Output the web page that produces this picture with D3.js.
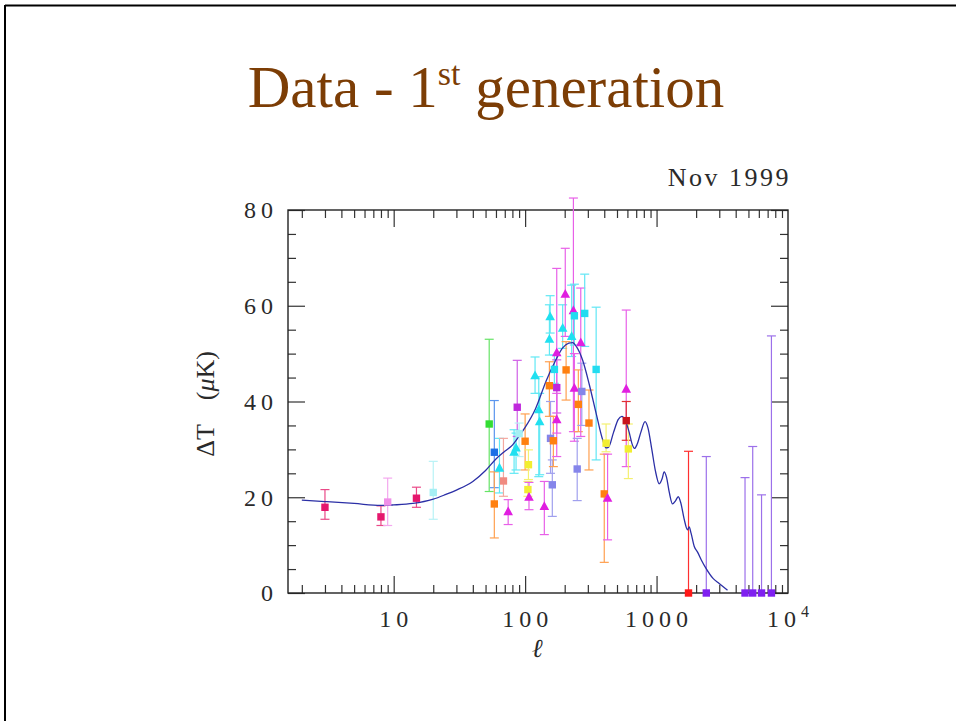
<!DOCTYPE html>
<html>
<head>
<meta charset="utf-8">
<script src="https://cdn.jsdelivr.net/npm/d3@7"></script>
<style>
body { margin: 0; background: #fff; }
svg { display: block; }
</style>
</head>
<body>
<svg id="chart" width="956" height="721"></svg>
<script>
// axis ticks
var yMajor = [0, 20, 40, 60, 80];
var yMinor = [5, 10, 15, 25, 30, 35, 45, 50, 55, 65, 70, 75];
var xMajor = [10, 100, 1000];
var xLabels = [10, 100, 1000, 10000];

// theory curve (l, deltaT)
var curveEll = [2, 3, 5, 8, 10, 14, 20, 25, 30, 40, 50, 60, 70, 80, 90, 100, 120, 145, 170, 193, 215, 230, 245, 274, 308, 347, 389, 412, 430, 470, 510, 545, 580, 620, 650, 680, 710, 760, 817, 860, 920, 980, 1048, 1100, 1143, 1190, 1250, 1323, 1390, 1462, 1530, 1620, 1720, 1770, 1830, 1936, 2046, 2200, 2372, 2700, 2994, 3467];
var curveDT = [19.4, 19.1, 18.7, 18.3, 18.4, 18.7, 19.6, 20.6, 21.5, 23.3, 25.6, 28.0, 29.6, 30.9, 32.8, 34.6, 38.5, 44.4, 48.5, 51.2, 52.2, 52.3, 51.5, 48.6, 43.5, 37.5, 32.0, 30.3, 30.4, 33.5, 36.2, 36.9, 36.0, 33.5, 31.2, 30.2, 31.0, 33.6, 35.8, 34.5, 30.0, 25.5, 22.8, 23.8, 25.3, 24.2, 21.0, 18.6, 19.2, 20.1, 18.8, 15.5, 13.2, 13.8, 12.5, 9.7, 8.6, 6.8, 5.2, 3.0, 2.0, 0.6];

// measurements
var ptEll = [3.0, 8.0, 9.0, 14.9, 20, 53.3, 58.3, 58.3, 63.8, 68.4, 74.3, 82.4, 85.3, 87.1, 90, 100, 106, 105, 107, 119, 127, 129, 140, 153, 155, 153, 156, 161, 164, 167, 174, 174, 174, 193, 205, 202, 226, 233, 237, 237, 249, 254, 265, 270, 306, 284, 347, 400, 424, 413, 588, 588, 610, 1750, 2390, 4710, 5390, 6290, 7480];
var ptDT = [17.9, 15.9, 19.0, 19.8, 21.0, 35.3, 29.4, 18.6, 26.1, 23.4, 17.0, 29.4, 30.3, 38.8, 33.3, 31.7, 26.8, 21.6, 20.0, 45.4, 38.3, 35.8, 18.1, 53.0, 57.7, 43.3, 32.3, 22.6, 31.8, 46.7, 42.9, 50.2, 36.2, 55.3, 46.6, 62.4, 53.6, 59.0, 57.9, 42.8, 25.9, 39.4, 52.3, 42.1, 35.5, 58.4, 46.7, 20.7, 19.8, 31.3, 42.6, 36.0, 30.1, 0, 0, 0, 0, 0, 0];
var ptLo = [15.4, 14.1, 14.1, 17.9, 15.4, 21.2, 22.0, 11.5, 20.9, 20.2, 14.3, 25.0, 25.7, 32.7, 28.5, 25.7, 23.7, 20.2, 17.4, 41.7, 24.3, 24.7, 12.2, 49.7, 54.3, 36.9, 25.0, 16.0, 26.4, 43.8, 37.6, 33.4, 28.5, 51.1, 40.3, 53.6, 49.4, 33.7, 51.8, 31.7, 19.3, 33.7, 32.7, 35.0, 25.7, 51.5, 27.8, 6.4, 11.1, 29.5, 26.4, 31.9, 23.9, 0, 0, 0, 0, 0, 0];
var ptHi = [21.6, 18.2, 24.0, 22.1, 27.5, 53.0, 40.2, 25.3, 32.3, 32.3, 19.5, 34.1, 33.4, 48.6, 35.5, 37.4, 29.9, 23.3, 23.1, 49.3, 45.2, 41.7, 23.3, 60.2, 62.1, 48.3, 40.0, 27.8, 36.9, 49.7, 48.7, 67.8, 41.7, 60.2, 52.5, 72.0, 64.3, 82.5, 64.5, 50.0, 32.3, 46.6, 63.7, 48.0, 42.4, 66.6, 59.7, 29.0, 29.0, 35.3, 59.1, 40.0, 35.3, 29.6, 28.5, 24.1, 30.6, 20.5, 53.7];
var ptSet = ["a", "a", "b", "a", "c", "d", "e", "f", "g", "h", "i", "g", "g", "j", "c", "f", "k", "k", "i", "g", "g", "g", "i", "g", "g", "f", "l", "l", "f", "m", "j", "i", "i", "g", "f", "i", "g", "i", "m", "i", "l", "f", "i", "l", "f", "m", "m", "f", "i", "k", "i", "n", "k", "o", "p", "p", "p", "p", "p", "p"];

var setKeys = ["a", "b", "c", "d", "e", "f", "g", "h", "i", "j", "k", "l", "m", "n", "o", "p"];

var svg = d3.select("#chart");

var color = d3.scaleOrdinal()
    .domain(setKeys)
    .range(["#e5176d", "#f090e8", "#a6eff4", "#33dd33", "#1c6fe6", "#ff8010", "#20e0f0", "#f08a80",
            "#e01ee0", "#c028dc", "#f2ee30", "#8585ea", "#22dcf0", "#c8141c", "#ff1818", "#7f20f0"]);
var barColor = d3.scaleOrdinal()
    .domain(setKeys)
    .range(["#ea4a88", "#f4a8ee", "#b8f2f6", "#66e466", "#5a95ee", "#ffa050", "#60e8f4", "#f4a8a0",
            "#e860e8", "#d060e6", "#f4f070", "#a0a0ee", "#60e6f4", "#e03030", "#ff3030", "#9c70ea"]);

var margin = { top: 210, right: 168, bottom: 128, left: 288 };
var width = 956 - margin.left - margin.right;
var height = 721 - margin.top - margin.bottom;

var x = d3.scaleLog().domain([1.57, 10000]).range([0, width]);
var y = d3.scaleLinear().domain([0, 80]).range([height, 0]);

// slide frame (cropped)
svg.append("line").attr("x1", 5).attr("x2", 956).attr("y1", 5.5).attr("y2", 5.5)
    .attr("stroke", "#000").attr("stroke-width", 2);
svg.append("line").attr("x1", 5).attr("x2", 5).attr("y1", 5).attr("y2", 721)
    .attr("stroke", "#000").attr("stroke-width", 2);

// title
var title = svg.append("text")
    .attr("x", 486).attr("y", 107)
    .attr("text-anchor", "middle")
    .attr("font-family", "'Liberation Serif', 'Times New Roman', serif")
    .attr("font-size", 59)
    .attr("fill", "#7c3d05");
title.append("tspan").text("Data - 1");
title.append("tspan").attr("font-size", 34).attr("dy", -22).text("st");
title.append("tspan").attr("dy", 22).text(" generation");

var g = svg.append("g")
    .attr("transform", "translate(" + margin.left + "," + margin.top + ")");

var xMinor = [];
[1, 10, 100, 1000].forEach(function(d) {
    for (var k = 2; k <= 9; k++) {
        if (d * k > 1.57 && d * k < 10000) xMinor.push(d * k);
    }
});

function tickAxis(axis, tx, ty) {
    var a = g.append("g")
        .attr("transform", "translate(" + tx + "," + ty + ")")
        .call(axis);
    a.select(".domain").remove();
    a.selectAll("line").attr("stroke", "#333").attr("stroke-width", 1.2);
    return a;
}

tickAxis(d3.axisBottom(x).tickValues(xMajor).tickSize(-17).tickSizeOuter(0).tickFormat(""), 0, height);
tickAxis(d3.axisBottom(x).tickValues(xMinor).tickSize(-8).tickSizeOuter(0).tickFormat(""), 0, height);
tickAxis(d3.axisTop(x).tickValues(xMajor).tickSize(-17).tickSizeOuter(0).tickFormat(""), 0, 0);
tickAxis(d3.axisTop(x).tickValues(xMinor).tickSize(-8).tickSizeOuter(0).tickFormat(""), 0, 0);
tickAxis(d3.axisLeft(y).tickValues(yMajor).tickSize(-17).tickSizeOuter(0).tickFormat(""), 0, 0);
tickAxis(d3.axisLeft(y).tickValues(yMinor).tickSize(-8).tickSizeOuter(0).tickFormat(""), 0, 0);
tickAxis(d3.axisRight(y).tickValues(yMajor).tickSize(-17).tickSizeOuter(0).tickFormat(""), width, 0);
tickAxis(d3.axisRight(y).tickValues(yMinor).tickSize(-8).tickSizeOuter(0).tickFormat(""), width, 0);

g.append("rect")
    .attr("width", width).attr("height", height)
    .attr("fill", "none").attr("stroke", "#222").attr("stroke-width", 1.4);

var labelFont = "'Liberation Serif', 'Times New Roman', serif";

// y tick labels
g.selectAll(".ylbl").data(yMajor).enter().append("text")
    .attr("class", "ylbl")
    .attr("x", -15)
    .attr("y", function(d) { return y(d); })
    .attr("dy", "0.35em")
    .attr("text-anchor", "end")
    .attr("font-family", labelFont).attr("font-size", 24)
    .attr("letter-spacing", 5).attr("dx", 5)
    .attr("fill", "#2a2a2a")
    .text(function(d) { return d; });

// x tick labels
var xl = g.selectAll(".xlbl").data(xLabels).enter().append("text")
    .attr("class", "xlbl")
    .attr("x", function(d) { return x(d); })
    .attr("y", height + 34)
    .attr("text-anchor", "middle")
    .attr("font-family", labelFont).attr("font-size", 24)
    .attr("letter-spacing", 5).attr("dx", 2.5)
    .attr("fill", "#2a2a2a");
xl.filter(function(d) { return d < 10000; }).text(function(d) { return d; });
var sup = xl.filter(function(d) { return d === 10000; });
sup.append("tspan").text("10");
sup.append("tspan").attr("font-size", 16).attr("dy", -10).text("4");

// axis titles
g.append("text")
    .attr("x", x(100) + 12).attr("y", height + 64)
    .attr("text-anchor", "middle")
    .attr("font-family", labelFont).attr("font-size", 26).attr("font-style", "italic")
    .attr("fill", "#2a2a2a")
    .text("\u2113");

var yt = g.append("text")
    .attr("transform", "translate(-74," + y(39.5) + ") rotate(-90)")
    .attr("text-anchor", "middle")
    .attr("font-family", labelFont).attr("font-size", 26)
    .attr("fill", "#2a2a2a");
yt.append("tspan").text("\u0394T");
yt.append("tspan").attr("dx", 24).text("(");
yt.append("tspan").attr("font-style", "italic").text("\u03bc");
yt.append("tspan").text("K)");

svg.append("text")
    .attr("x", 791).attr("y", 186)
    .attr("text-anchor", "end")
    .attr("font-family", labelFont).attr("font-size", 26)
    .attr("letter-spacing", 2.5)
    .attr("fill", "#2a2a2a")
    .text("Nov  1999");

// data points
var pts = ptEll.map(function(d, i) {
    return { ell: d, dt: ptDT[i], lo: ptLo[i], hi: ptHi[i], set: ptSet[i] };
});

var bars = g.selectAll(".err").data(pts).enter().append("g").attr("class", "err")
    .attr("stroke", function(d) { return barColor(d.set); })
    .attr("stroke-width", 1.2);
bars.append("line")
    .attr("x1", function(d) { return x(d.ell); }).attr("x2", function(d) { return x(d.ell); })
    .attr("y1", function(d) { return y(d.lo); }).attr("y2", function(d) { return y(d.hi); });
bars.append("line")
    .attr("x1", function(d) { return x(d.ell) - 4.5; }).attr("x2", function(d) { return x(d.ell) + 4.5; })
    .attr("y1", function(d) { return y(d.hi); }).attr("y2", function(d) { return y(d.hi); });
bars.filter(function(d) { return d.lo > 0; }).append("line")
    .attr("x1", function(d) { return x(d.ell) - 4.5; }).attr("x2", function(d) { return x(d.ell) + 4.5; })
    .attr("y1", function(d) { return y(d.lo); }).attr("y2", function(d) { return y(d.lo); });

// theory curve
var line = d3.line()
    .x(function(d) { return x(d[0]); })
    .y(function(d) { return y(d[1]); })
    .curve(d3.curveMonotoneX);
g.append("path")
    .datum(curveEll.map(function(d, i) { return [d, curveDT[i]]; }))
    .attr("d", line)
    .attr("fill", "none")
    .attr("stroke", "#2b2fa6")
    .attr("stroke-width", 1.3);

function markerPath(d) {
    var cx = x(d.ell), cy = y(d.dt);
    if (d.set === "g" || d.set === "i") {
        return "M" + cx + "," + (cy - 5.2) + "L" + (cx + 4.8) + "," + (cy + 3.6) + "L" + (cx - 4.8) + "," + (cy + 3.6) + "Z";
    }
    return "M" + (cx - 3.7) + "," + (cy - 3.7) + "h7.4v7.4h-7.4Z";
}

g.selectAll(".mark").data(pts).enter().append("path")
    .attr("class", "mark")
    .attr("d", markerPath)
    .attr("fill", function(d) { return color(d.set); });
</script>
</body>
</html>
